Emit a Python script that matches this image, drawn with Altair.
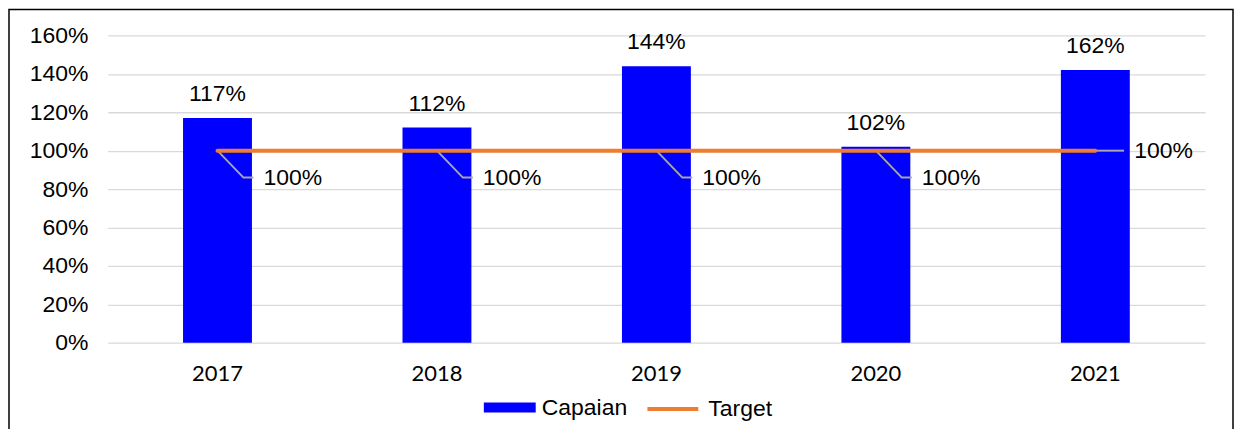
import altair as alt
import pandas as pd

years = ["2017", "2018", "2019", "2020", "2021"]
capaian = [117, 112, 144, 102, 142]          # bar heights as drawn
capaian_labels = ["117%", "112%", "144%", "102%", "162%"]
target = [100, 100, 100, 100, 100]
target_labels = ["100%", "100%", "100%", "100%", "100%"]
y_ticks = [0, 20, 40, 60, 80, 100, 120, 140, 160]

df = pd.DataFrame({
    "year": years,
    "capaian": capaian,
    "cap_label": capaian_labels,
    "target": target,
    "tgt_label": target_labels,
})

BLUE = "#0000FF"
ORANGE = "#ED7D31"
FONT = "Liberation Sans"
FS = 23

xscale = alt.Scale(paddingInner=0.686, paddingOuter=0.343)
xaxis = alt.Axis(title=None, labelAngle=0, domain=False, ticks=False,
                 labelFont="Lato", labelFontSize=22, labelColor="#000000",
                 labelPadding=21)
x_band = alt.X("year:N", scale=xscale, sort=years, axis=xaxis)
x_c = alt.X("year:N", scale=xscale, sort=years, bandPosition=0.5, axis=xaxis)
yscale = alt.Scale(domain=[0, 160], nice=False)
yaxis = alt.Axis(title=None, values=y_ticks, labelExpr="datum.value + '%'",
                 domain=False, ticks=False, grid=True, gridColor="#D9D9D9",
                 gridWidth=1.3, labelFont=FONT, labelFontSize=FS,
                 labelColor="#000000", labelPadding=20, labelOverlap=False)

base = alt.Chart(df)

bars = base.transform_calculate(s="'Capaian'").mark_bar(color=BLUE).encode(
    x=x_band,
    y=alt.Y("capaian:Q", scale=yscale, axis=yaxis),
    color=alt.Color("s:N", scale=alt.Scale(domain=["Capaian"], range=[BLUE]),
                    legend=alt.Legend(title=None, orient="none", legendX=377, legendY=347,
                                      symbolType="M-1,-0.19H1V0.19H-1Z", symbolSize=2704,
                                      symbolStrokeWidth=0, labelFont=FONT, labelFontSize=FS,
                                      labelColor="#000000", labelOffset=6, padding=0)),
)

bar_labels = base.mark_text(font=FONT, fontSize=FS, color="#000000", dy=-24,
                            baseline="middle", align="center").encode(
    x=x_c, y=alt.Y("capaian:Q", scale=yscale, axis=yaxis), text="cap_label:N")

leaders = base.transform_calculate(
    shp="datum.year == '2021' ? 'M0,0L0.72,0' : 'M0,0L0.65,0.675L0.9,0.675'"
).mark_point(filled=False, stroke="#A6A6A6", strokeWidth=2, opacity=1).encode(
    x=x_c, y=alt.Y("target:Q", scale=yscale, axis=yaxis),
    shape=alt.Shape("shp:N", scale=None, legend=None),
    size=alt.value(6400))

line = base.transform_calculate(t="'Target'").mark_line(strokeWidth=4, strokeCap="round").encode(
    x=x_c, y=alt.Y("target:Q", scale=yscale, axis=yaxis),
    stroke=alt.Stroke("t:N", scale=alt.Scale(domain=["Target"], range=[ORANGE]),
                      legend=alt.Legend(title=None, orient="none", legendX=539, legendY=347,
                                        symbolType="stroke", symbolSize=2601,
                                        symbolStrokeWidth=4, labelFont=FONT, labelFontSize=FS,
                                        labelColor="#000000", labelOffset=8, padding=0)))

tgt_labels_a = base.transform_filter("datum.year != '2021'").mark_text(
    font=FONT, fontSize=FS, color="#000000", dx=46, dy=27, align="left", baseline="middle"
).encode(x=x_c, y=alt.Y("target:Q", scale=yscale, axis=yaxis), text="tgt_label:N")

tgt_labels_b = base.transform_filter("datum.year == '2021'").mark_text(
    font=FONT, fontSize=FS, color="#000000", dx=39, dy=0, align="left", baseline="middle"
).encode(x=x_c, y=alt.Y("target:Q", scale=yscale, axis=yaxis), text="tgt_label:N")

frame = alt.Chart(pd.DataFrame({"f": [0]})).mark_rect(
    filled=False, stroke="#000000", strokeWidth=1.5).encode(
    x=alt.value(-99), x2=alt.value(1128), y=alt.value(-26), y2=alt.value(430))

chart = alt.layer(bars, leaders, line, bar_labels, tgt_labels_a, tgt_labels_b, frame).properties(
    width=1100, height=308,
    padding={"left": 100, "top": 27, "right": 30, "bottom": 86},
    autosize=alt.AutoSizeParams(type="none"),
    background="white",
).configure_view(stroke=None)

chart.save("out.html", embed_options={"renderer": "svg", "actions": False})
